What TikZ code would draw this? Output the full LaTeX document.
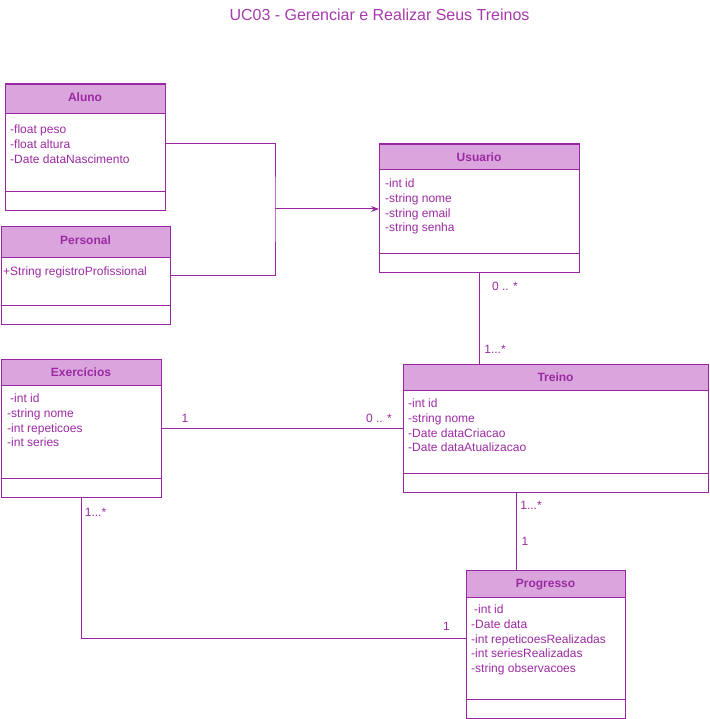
\documentclass[tikz,border=0pt]{standalone}
\usepackage{fontspec}
\setmainfont{Liberation Sans}
\usetikzlibrary{arrows.meta,calc}
\definecolor{uml}{RGB}{153,38,161}
\definecolor{hdrfill}{RGB}{218,164,221}
\definecolor{umltext}{RGB}{155,42,162}
\definecolor{ttltext}{RGB}{166,58,173}
\tikzset{
  box/.style={draw=uml, line width=1pt, inner sep=0pt, anchor=north west},
  hdr/.style={fill=hdrfill, draw=uml, line width=1pt},
  divl/.style={draw=uml, line width=1pt},
  ttl/.style={font=\bfseries\fontsize{12}{14}\selectfont, text=umltext, text height=8.7pt, text depth=0pt, inner sep=0pt},
  attrs/.style={font=\fontsize{12}{14.6}\selectfont, text=umltext, align=left, anchor=north west, inner sep=0pt},
  mult/.style={font=\fontsize{12}{14}\selectfont, text=umltext, inner sep=0pt, text height=8.7pt, text depth=0pt},
  conn/.style={draw=uml, line width=1pt},
}
\begin{document}
\begin{tikzpicture}[x=1pt,y=-1pt]
\useasboundingbox (0,0) rectangle (709,719);

\node[font=\fontsize{16}{19}\selectfont, text=ttltext, inner sep=0pt, text height=11.5pt, text depth=0pt] (title) at (379.5,15) {UC03 - Gerenciar e Realizar Seus Treinos};

% Aluno
\draw[hdr] (5,84) rectangle (165,114);
\draw[divl] (5,192) -- (165,192);
\node[box, minimum width=160pt, minimum height=126pt] (aluno) at (5,84) {};
\node[ttl] (alunoT) at (85,97) {Aluno};
\node[attrs] (alunoA) at (10,125) {-float peso\\-float altura\\-Date dataNascimento};

% Personal
\draw[hdr] (1,226) rectangle (170,257);
\draw[divl] (1,305) -- (170,305);
\node[box, minimum width=169pt, minimum height=98pt] (personal) at (1,226) {};
\node[ttl] (personalT) at (85.5,240) {Personal};
\node[attrs] (personalA) at (3,266.5) {+String registroProfissional};

% Usuario
\draw[hdr] (379,144) rectangle (579,170);
\draw[divl] (379,253) -- (579,253);
\node[box, minimum width=200pt, minimum height=128pt] (usuario) at (379,144) {};
\node[ttl] (usuarioT) at (479,157) {Usuario};
\node[attrs] (usuarioA) at (385,179) {-int id\\-string nome\\-string email\\-string senha};

% Exercicios
\draw[hdr] (1,359) rectangle (161,385);
\draw[divl] (1,478) -- (161,478);
\node[box, minimum width=160pt, minimum height=138pt] (exercicios) at (1,359) {};
\node[ttl] (exerciciosT) at (81,372) {Exercícios};
\node[attrs] (exerciciosA) at (7,394) {\hspace*{3pt}-int id\\-string nome\\-int repeticoes\\-int series};

% Treino
\draw[hdr] (403,364) rectangle (708,390);
\draw[divl] (403,473) -- (708,473);
\node[box, minimum width=305pt, minimum height=128pt] (treino) at (403,364) {};
\node[ttl] (treinoT) at (555.5,377) {Treino};
\node[attrs] (treinoA) at (408,399) {-int id\\-string nome\\-Date dataCriacao\\-Date dataAtualizacao};

% Progresso
\draw[hdr] (466,570) rectangle (625,597);
\draw[divl] (466,699) -- (625,699);
\node[box, minimum width=159pt, minimum height=148pt] (progresso) at (466,570) {};
\node[ttl] (progressoT) at (545.5,583.5) {Progresso};
\node[attrs] (progressoA) at (471,605) {\hspace*{3pt}-int id\\-Date data\\-int repeticoesRealizadas\\-int seriesRealizadas\\-string observacoes};

% connectors
\coordinate (j) at (275,209);
\draw[conn] ([yshift=-60pt]aluno.north east) -| (j) |- ([yshift=-49pt]personal.north east);
\draw[conn,-{Stealth[length=8pt,width=6pt]}] (j) -- (j -| usuario.west);
\draw[conn] (usuario.south) -- (usuario.south |- treino.north);
\draw[conn] (exercicios.east) -- (exercicios.east -| treino.west);
\draw[conn] ([xshift=-39.5pt]treino.south) -- ([xshift=-39.5pt]treino.south |- progresso.north);
\draw[conn] (exercicios.south) |- ([yshift=-68pt]progresso.north west);

% multiplicities
\node[mult] (m1) at (505,286) {0 .. *};
\node[mult] (m2) at (495,349) {1...*};
\node[mult] (m3) at (185,418) {1};
\node[mult] (m4) at (379,418) {0 .. *};
\node[mult] (m5) at (95.5,512) {1...*};
\node[mult] (m6) at (531,505) {1...*};
\node[mult] (m7) at (525,541.5) {1};
\node[mult] (m8) at (446.5,626) {1};
\end{tikzpicture}
\end{document}
